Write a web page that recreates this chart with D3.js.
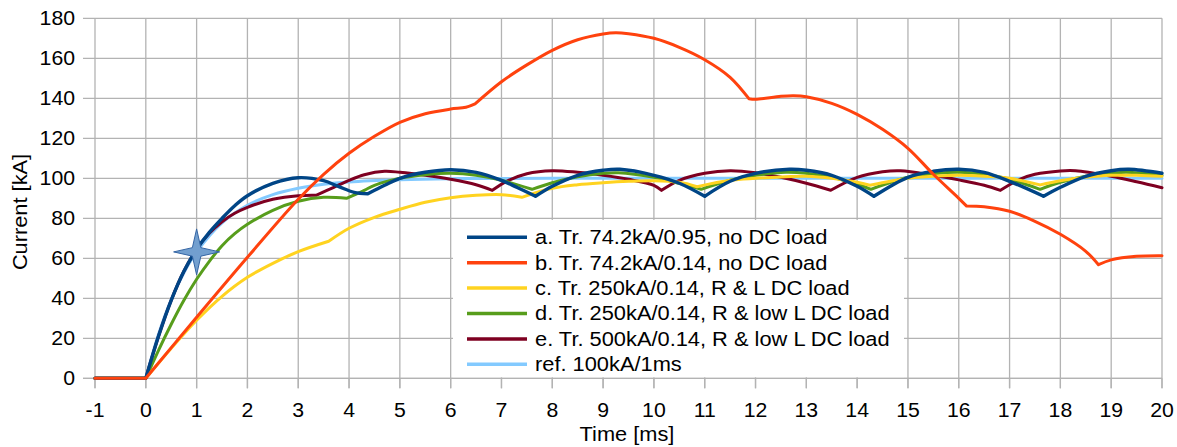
<!DOCTYPE html>
<html>
<head>
<meta charset="utf-8">
<script src="https://cdn.jsdelivr.net/npm/d3@7"></script>
<style>
  body { margin: 0; background: #fff; }
  svg { display: block; font-family: "Liberation Sans", Arial, sans-serif; }
</style>
</head>
<body>
<div id="chart"></div>
<script>
// series names and colours (legend order)
const seriesNames = [
    'a. Tr. 74.2kA/0.95, no DC load',
    'b. Tr. 74.2kA/0.14, no DC load',
    'c. Tr. 250kA/0.14, R & L DC load',
    'd. Tr. 250kA/0.14, R & low L DC load',
    'e. Tr. 500kA/0.14, R & low L DC load',
    'ref. 100kA/1ms'
]
const seriesColors = ['#004586', '#ff420e', '#ffd320', '#579d1c', '#7e0021', '#83caff']

// a. blue
const timeA = [-1, 0, 0.25, 0.5, 0.75, 1, 1.25, 1.5, 1.75, 2, 2.5, 3, 3.5, 3.8, 4.1, 4.37, 4.7, 5, 5.5, 6, 6.5, 7, 7.3, 7.67, 8, 8.5, 9, 9.33, 10, 10.5, 11, 11.5, 12, 12.67, 13, 13.5, 14, 14.33, 15, 15.5, 16, 16.5, 17, 17.67, 18, 18.5, 19, 19.35, 20]
const currA = [0, 0, 21, 39, 53.5, 64.5, 73, 80, 86.3, 91.3, 97.5, 100.3, 98.8, 95.8, 93, 92.3, 96.5, 100, 103, 104.3, 103, 99, 95.5, 91, 96, 101.5, 104, 104.5, 101.5, 97.5, 91, 98.5, 102.5, 104.5, 104, 101.5, 96, 91, 100.5, 103.5, 104.5, 103, 98.5, 91, 95.5, 101, 103.8, 104.5, 102.5]
const breaksA = [0, 4.37, 7.67, 11, 14.33, 17.67]

// b. orange
const timeB = [-1, 0, 1, 2, 3, 3.5, 4, 4.5, 5, 5.5, 6, 6.3, 6.48, 7, 7.5, 8, 8.5, 9, 9.25, 9.5, 10, 10.5, 11, 11.5, 11.87, 12, 12.5, 12.75, 13, 13.5, 14, 14.5, 15, 15.5, 16, 16.15, 16.5, 17, 17.5, 18, 18.5, 18.75, 19, 19.5, 20]
const currB = [0, 0, 30.5, 60.5, 89.5, 102, 112.5, 121, 128, 132.3, 134.6, 135.5, 137.2, 148.3, 156.7, 164, 169.3, 172.2, 172.8, 172.3, 170, 165.5, 159.3, 150.5, 139.8, 139.5, 141, 141.3, 140.8, 137.5, 132, 124.5, 115, 102, 90, 86.2, 85.8, 83.5, 78.5, 72, 63.5, 56.8, 59.2, 61, 61.3]
const breaksB = [0, 6.48, 11.87, 16.15, 18.75]

// c. yellow
const timeC = [-1, 0, 0.5, 1, 1.5, 2, 2.5, 3, 3.6, 4, 4.5, 5, 5.5, 6, 6.5, 7, 7.4, 8, 8.5, 9, 9.5, 10, 10.5, 10.85, 11.5, 12, 12.5, 13, 13.5, 14, 14.25, 15, 15.5, 16, 16.5, 17, 17.6, 18, 18.5, 19, 19.5, 20]
const currC = [0, 0, 15, 29, 41, 50.5, 57.5, 63.3, 68.5, 75, 80.5, 84.5, 88, 90.3, 91.5, 91.8, 90.5, 95, 96.8, 97.8, 98.5, 98.8, 98, 95.8, 99, 100, 100.7, 101, 100, 98, 96.5, 100, 101, 101.5, 101, 100, 96.7, 98.8, 100.5, 101.5, 101.5, 101]
const breaksC = [0, 3.6, 7.4, 10.85, 14.25, 17.6]

// d. green
const timeD = [-1, 0, 0.25, 0.5, 0.75, 1, 1.25, 1.5, 1.75, 2, 2.5, 3, 3.5, 3.95, 4.3, 4.5, 5, 5.5, 6, 6.5, 7, 7.6, 8, 8.5, 9, 9.3, 10, 10.5, 10.93, 11.5, 12, 12.6, 13, 13.5, 14, 14.27, 15, 15.5, 16, 16.5, 17, 17.6, 18, 18.5, 19, 19.3, 20]
const currD = [0, 0, 14, 27, 39, 49.5, 58.5, 66.3, 72.3, 77, 84, 88.5, 90.5, 90, 94, 96.5, 100, 101.8, 102.5, 101.5, 99, 94.5, 97.8, 100.8, 102.5, 102.8, 100.5, 97.5, 94.5, 99, 101.5, 103, 102.5, 100.5, 97, 94.5, 100.5, 102.3, 103, 102, 99.5, 94.5, 98, 101, 102.5, 103, 101.5]
const breaksD = [0, 3.95, 7.6, 10.93, 14.27, 17.6]

// e. dark red
const timeE = [-1, 0, 0.25, 0.5, 0.75, 1, 1.25, 1.5, 1.75, 2, 2.5, 3, 3.35, 3.7, 4, 4.3, 4.7, 5, 5.5, 6, 6.5, 6.82, 7.1, 7.5, 8, 8.5, 9, 9.5, 10, 10.15, 10.5, 11, 11.5, 12, 12.5, 13, 13.48, 14, 14.5, 14.85, 15.5, 16, 16.5, 16.82, 17.2, 17.5, 18, 18.3, 19, 19.5, 20]
const currE = [0, 0, 21, 39, 53.5, 64.5, 72.5, 78.3, 82.5, 85.5, 89.5, 91.3, 91.5, 95.5, 99, 101.8, 103.5, 103, 101.5, 99.5, 96.8, 94, 98.5, 102.3, 103.8, 103, 101.5, 99.5, 96.5, 94, 99, 102.5, 103.8, 102.8, 100.5, 97.5, 94, 100.5, 103.3, 103.8, 101.5, 99.2, 96.5, 94, 99.5, 102, 103.7, 103.8, 101, 98.3, 95.3]
const breaksE = [0, 3.35, 6.82, 10.15, 13.48, 16.82]

// ref. light blue
const timeR = [-1, 0, 0.25, 0.5, 0.75, 1, 1.5, 2, 2.5, 3, 3.5, 4, 5, 6, 8, 20]
const currR = [0, 0, 22, 39.3, 52.8, 63.2, 77.7, 86.5, 91.8, 95, 97, 98.2, 99.3, 99.8, 100, 100]
const breaksR = [0]

// star marker on the ref curve
const markTime = [1]
const markCurr = [63.2]

const xTicks = d3.range(-1, 21)
const yTicks = d3.range(0, 181, 20)

// drawing order bottom -> top : ref, e, d, c, a, b
const seriesList = [
    { t: timeA, v: currA, br: breaksA, c: 0 },
    { t: timeB, v: currB, br: breaksB, c: 1 },
    { t: timeC, v: currC, br: breaksC, c: 2 },
    { t: timeD, v: currD, br: breaksD, c: 3 },
    { t: timeE, v: currE, br: breaksE, c: 4 },
    { t: timeR, v: currR, br: breaksR, c: 5 }
]
const drawOrder = [5, 4, 3, 2, 0, 1]

const W = 1177, H = 447
const margin = { left: 95, right: 15, top: 18.3, bottom: 68.7 }

const x = d3.scaleLinear().domain([-1, 20]).range([margin.left, W - margin.right])
const y = d3.scaleLinear().domain([0, 180]).range([H - margin.bottom, margin.top])

const svg = d3.select('#chart').append('svg')
    .attr('width', W)
    .attr('height', H)

const gridColor = '#b3b3b3'
// text in the picture is a bit wider than the font
const stretch = 1.09
const legStretch = 1.12

// grid
svg.append('g').selectAll('line')
    .data(yTicks)
    .enter().append('line')
    .attr('x1', x(-1) - 12).attr('x2', x(20))
    .attr('y1', d => y(d)).attr('y2', d => y(d))
    .attr('stroke', gridColor).attr('stroke-width', 1.3)

svg.append('g').selectAll('line')
    .data(xTicks)
    .enter().append('line')
    .attr('x1', d => x(d)).attr('x2', d => x(d))
    .attr('y1', y(180)).attr('y2', y(0) + 10)
    .attr('stroke', gridColor).attr('stroke-width', 1.3)

// legend background (covers grid)
const legX = 453, legY = 220
svg.append('rect')
    .attr('x', legX).attr('y', legY)
    .attr('width', 904 - legX).attr('height', y(0) - legY - 1)
    .attr('fill', '#fff')

// axis lines
svg.append('line')
    .attr('x1', x(-1) - 12).attr('x2', x(20))
    .attr('y1', y(0)).attr('y2', y(0))
    .attr('stroke', gridColor).attr('stroke-width', 1.3)
svg.append('g').selectAll('line')
    .data(xTicks)
    .enter().append('line')
    .attr('x1', d => x(d)).attr('x2', d => x(d))
    .attr('y1', y(0)).attr('y2', y(0) + 10)
    .attr('stroke', gridColor).attr('stroke-width', 1.3)

// tick labels
svg.append('g').selectAll('text')
    .data(yTicks)
    .enter().append('text')
    .attr('transform', d => 'translate(75,' + y(d) + ') scale(' + stretch + ',1)')
    .attr('dy', '0.35em')
    .attr('text-anchor', 'end')
    .attr('font-size', 19.5)
    .attr('fill', '#000')
    .text(d => d)

svg.append('g').selectAll('text')
    .data(xTicks)
    .enter().append('text')
    .attr('transform', d => 'translate(' + x(d) + ',417) scale(' + stretch + ',1)')
    .attr('text-anchor', 'middle')
    .attr('font-size', 19.5)
    .attr('fill', '#000')
    .text(d => d)

// axis titles
svg.append('text')
    .attr('transform', 'translate(627,441) scale(' + stretch + ',1)')
    .attr('text-anchor', 'middle')
    .attr('font-size', 20)
    .text('Time [ms]')

svg.append('text')
    .attr('transform', 'translate(27,212) rotate(-90) scale(' + stretch + ',1)')
    .attr('text-anchor', 'middle')
    .attr('font-size', 20)
    .text('Current [kA]')

// lines, split at the sharp corners
const line = d3.line()
    .x(d => x(d[0]))
    .y(d => y(d[1]))
    .curve(d3.curveCatmullRom.alpha(0.5))

function segmentPath(s) {
    const pts = s.t.map((t, i) => [t, s.v[i]])
    const segs = []
    let cur = []
    pts.forEach(p => {
        cur.push(p)
        if (s.br.includes(p[0]) && cur.length > 1) {
            segs.push(cur)
            cur = [p]
        }
    })
    if (cur.length > 1) segs.push(cur)
    return segs.map(sg => line(sg)).join('')
}

const plot = svg.append('g')
drawOrder.forEach(k => {
    const s = seriesList[k]
    plot.append('path')
        .attr('d', segmentPath(s))
        .attr('fill', 'none')
        .attr('stroke', seriesColors[s.c])
        .attr('stroke-width', k === 0 ? 3.4 : 3)
        .attr('stroke-linejoin', 'round')
        .attr('stroke-linecap', 'round')
})

// star marker
function star4(r, ri) {
    const p = []
    for (let i = 0; i < 8; i++) {
        const a = i * Math.PI / 4 - Math.PI / 2
        const rr = i % 2 === 0 ? r : ri
        p.push([rr * Math.cos(a), rr * Math.sin(a)])
    }
    return 'M' + p.map(q => q.join(',')).join('L') + 'Z'
}

svg.append('g').selectAll('path')
    .data(markTime)
    .enter().append('path')
    .attr('transform', (d, i) => 'translate(' + x(d) + ',' + y(markCurr[i]) + ')')
    .attr('d', star4(23, 6))
    .attr('fill', '#729fcf')
    .attr('stroke', '#3465a4')
    .attr('stroke-width', 1)

// legend
const legend = svg.append('g')
seriesNames.forEach((name, i) => {
    const ly = 237.3 + i * 25.4
    legend.append('line')
        .attr('x1', 467).attr('x2', 527)
        .attr('y1', ly).attr('y2', ly)
        .attr('stroke', seriesColors[i])
        .attr('stroke-width', 3.5)
    legend.append('text')
        .attr('transform', 'translate(535,' + ly + ') scale(' + legStretch + ',1)')
        .attr('dy', '0.35em')
        .attr('font-size', 19.5)
        .attr('fill', '#000')
        .text(name)
})
</script>
</body>
</html>
